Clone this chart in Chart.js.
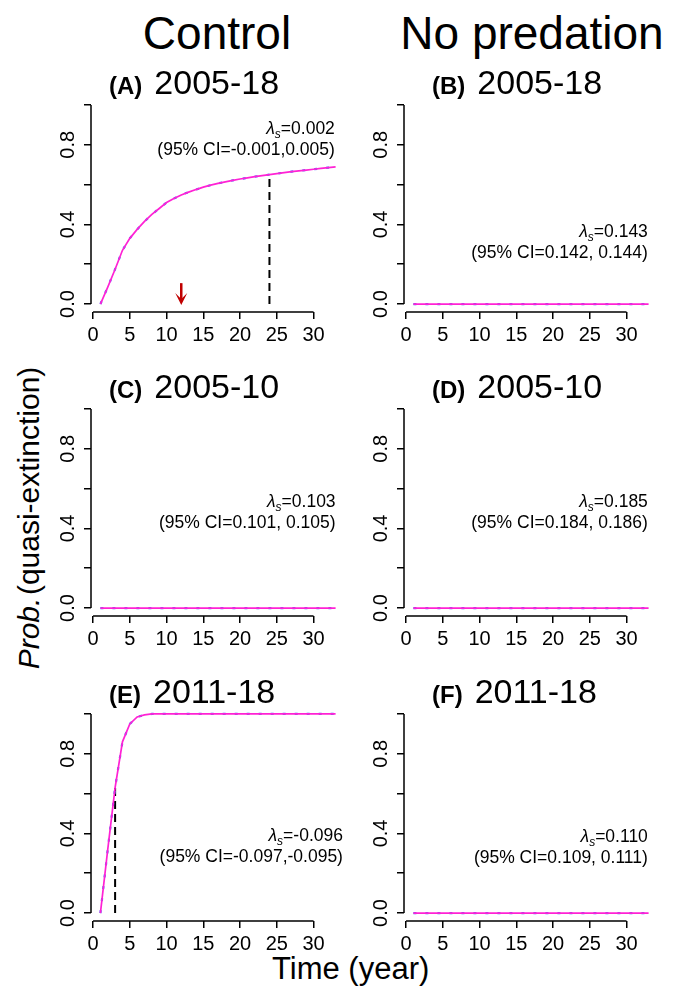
<!DOCTYPE html>
<html>
<head>
<meta charset="utf-8">
<script src="https://cdn.jsdelivr.net/npm/chart.js@4.4.1/dist/chart.umd.min.js"></script>
<style>
  body { margin: 0; background: #fff; }
  #fig { position: relative; width: 675px; height: 990px; overflow: hidden; font-family: "Liberation Sans", Arial, sans-serif; color: #000; }
  canvas { position: absolute; }
  .hdr { position: absolute; font-size: 46px; white-space: nowrap; transform: translateX(-50%); line-height: 1; }
  #ytitle { position: absolute; font-size: 30px; white-space: nowrap; line-height: 1; transform-origin: center; }
  #xtitle { position: absolute; font-size: 31px; white-space: nowrap; line-height: 1; }
</style>
</head>
<body>
<div id="fig">
  <div class="hdr" style="left:217px; top:10px;">Control</div>
  <div class="hdr" style="left:532px; top:10px;">No predation</div>
  <div id="ytitle"><i>Prob.</i>&#8202;(quasi-extinction)</div>
  <div id="xtitle" style="left:272px; top:953px;">Time (year)</div>
</div>
<script>
// years on the x axis
const years = [1, 2, 3, 4, 5, 6, 7, 8, 9, 10, 11, 12, 13, 14, 15, 16, 17,
  18, 19, 20, 21, 22, 23, 24, 25, 26, 27, 28, 29, 30, 31, 32, 33];

// probability of quasi-extinction
const probA = [0, 0.085, 0.175, 0.27, 0.33, 0.375, 0.415, 0.45, 0.48, 0.51, 0.53,
  0.548, 0.562, 0.575, 0.587, 0.597, 0.606, 0.614, 0.621, 0.628, 0.634, 0.64,
  0.645, 0.65, 0.655, 0.66, 0.665, 0.669, 0.673, 0.677, 0.681, 0.685, 0.689];
const probB = [0, 0, 0, 0, 0, 0, 0, 0, 0, 0, 0, 0, 0, 0, 0, 0, 0,
  0, 0, 0, 0, 0, 0, 0, 0, 0, 0, 0, 0, 0, 0, 0, 0];
const probC = [0, 0, 0, 0, 0, 0, 0, 0, 0, 0, 0, 0, 0, 0, 0, 0, 0,
  0, 0, 0, 0, 0, 0, 0, 0, 0, 0, 0, 0, 0, 0, 0, 0];
const probD = [0, 0, 0, 0, 0, 0, 0, 0, 0, 0, 0, 0, 0, 0, 0, 0, 0,
  0, 0, 0, 0, 0, 0, 0, 0, 0, 0, 0, 0, 0, 0, 0, 0];
const probE = [0, 0.32, 0.63, 0.86, 0.95, 0.985, 0.995, 1, 1, 1, 1, 1, 1, 1, 1, 1, 1,
  1, 1, 1, 1, 1, 1, 1, 1, 1, 1, 1, 1, 1, 1, 1, 1];
const probF = [0, 0, 0, 0, 0, 0, 0, 0, 0, 0, 0, 0, 0, 0, 0, 0, 0,
  0, 0, 0, 0, 0, 0, 0, 0, 0, 0, 0, 0, 0, 0, 0, 0];

// tick values and labels
const xTicks = [0, 5, 10, 15, 20, 25, 30];
const yTicks = [0, 0.2, 0.4, 0.6, 0.8, 1.0];
const yTickLabels = ['0.0', '', '0.4', '', '0.8', ''];

// panel texts
const panelLetters = ['(A)', '(B)', '(C)', '(D)', '(E)', '(F)'];
const panelPeriods = ['2005-18', '2005-18', '2005-10', '2005-10', '2011-18', '2011-18'];
const lambdaValues = ['0.002', '0.143', '0.103', '0.185', '-0.096', '0.110'];
const ciTexts = ['(95% CI=-0.001,0.005)', '(95% CI=0.142, 0.144)', '(95% CI=0.101, 0.105)',
  '(95% CI=0.184, 0.186)', '(95% CI=-0.097,-0.095)', '(95% CI=0.109, 0.111)'];

// dashed line where the probability reaches its threshold, and the red arrow
const thresholdA = { year: 24, prob: 0.65 };
const thresholdE = { year: 3, prob: 0.63 };
const arrowA = { year: 12, from: 0.105, to: -0.005 };

const series = [probA, probB, probC, probD, probE, probF];
const thresholds = [thresholdA, null, null, null, thresholdE, null];
const arrows = [arrowA, null, null, null, null, null];
// where the lambda text sits (data units: right edge, baseline of 2nd line)
const notePos = [[32.9, 0.75], [32.9, 0.23], [33.0, 0.40], [32.9, 0.40], [34.0, 0.255], [32.9, 0.25]];

const FONT = '"Liberation Sans", Arial, sans-serif';
Chart.defaults.font.family = FONT;
Chart.defaults.color = '#000';

const chartLefts = [91, 404];
const titleOffsets = [18, 28];
const chartW = 254, chartH = 215;
const padTop = 50, padRight = 16, yAxisW = 60, xAxisH = 45;

const rDecor = {
  id: 'rDecor',
  afterDraw(chart, args, opts) {
    const ctx = chart.ctx;
    const xs = chart.scales.x, ys = chart.scales.y;
    const area = chart.chartArea;
    ctx.save();
    // axis lines from first to last tick, like R
    ctx.strokeStyle = '#000';
    ctx.lineWidth = 1.5;
    ctx.beginPath();
    ctx.moveTo(xs.getPixelForValue(xTicks[0]), area.bottom);
    ctx.lineTo(xs.getPixelForValue(xTicks[xTicks.length - 1]), area.bottom);
    ctx.moveTo(area.left, ys.getPixelForValue(yTicks[0]));
    ctx.lineTo(area.left, ys.getPixelForValue(yTicks[yTicks.length - 1]));
    ctx.stroke();

    // panel title
    ctx.fillStyle = '#000';
    ctx.textBaseline = 'alphabetic';
    ctx.textAlign = 'left';
    let tx = area.left + opts.titleOffset;
    const ty = area.top - 3;
    ctx.font = 'bold 24px ' + FONT;
    ctx.fillText(opts.letter, tx, ty);
    tx += ctx.measureText(opts.letter).width + 12;
    ctx.font = '34px ' + FONT;
    ctx.fillText(opts.period, tx, ty);

    // lambda note, right aligned
    const nx = xs.getPixelForValue(opts.note[0]);
    const ny = ys.getPixelForValue(opts.note[1]);
    ctx.textAlign = 'right';
    ctx.font = '17.5px ' + FONT;
    ctx.fillText(opts.ci, nx, ny);
    const rest = '=' + opts.lambda;
    const wRest = ctx.measureText(rest).width;
    ctx.fillText(rest, nx, ny - 21);
    ctx.font = 'italic 12px ' + FONT;
    const wSub = ctx.measureText('s').width;
    ctx.fillText('s', nx - wRest, ny - 17);
    ctx.font = 'italic 17.5px ' + FONT;
    ctx.fillText('\u03bb', nx - wRest - wSub, ny - 21);

    // red arrow
    if (opts.arrow) {
      const ax = xs.getPixelForValue(opts.arrow.year);
      const a0 = ys.getPixelForValue(opts.arrow.from);
      const a1 = ys.getPixelForValue(opts.arrow.to);
      ctx.strokeStyle = '#c00000';
      ctx.fillStyle = '#c00000';
      ctx.lineWidth = 2.5;
      ctx.beginPath();
      ctx.moveTo(ax, a0);
      ctx.lineTo(ax, a1 - 4);
      ctx.stroke();
      ctx.beginPath();
      ctx.moveTo(ax - 6, a1 - 12);
      ctx.lineTo(ax, a1);
      ctx.lineTo(ax + 6, a1 - 12);
      ctx.lineTo(ax, a1 - 6);
      ctx.closePath();
      ctx.fill();
    }
    ctx.restore();
  }
};

const fig = document.getElementById('fig');

series.forEach((probs, i) => {
  const col = i % 2, row = Math.floor(i / 2);
  const left = chartLefts[col] - yAxisW;
  const top = Math.round(97 + row * 304.3) - padTop;
  const canvas = document.createElement('canvas');
  canvas.width = yAxisW + chartW + padRight;
  canvas.height = padTop + chartH + xAxisH;
  canvas.style.left = left + 'px';
  canvas.style.top = top + 'px';
  fig.appendChild(canvas);

  const points = years.map((yr, k) => ({ x: yr, y: probs[k] }));
  const datasets = [
    { data: points, borderColor: '#ff22d4', borderWidth: 1.7 },
    { data: points, borderColor: '#4a6cff', borderWidth: 2.2, borderDash: [3, 9] }
  ];
  const th = thresholds[i];
  if (th) {
    datasets.push({
      data: [{ x: th.year, y: 0 }, { x: th.year, y: th.prob }],
      borderColor: '#000', borderWidth: 2, borderDash: [8, 5]
    });
  }

  new Chart(canvas, {
    type: 'line',
    data: { datasets: datasets },
    options: {
      responsive: false,
      animation: false,
      devicePixelRatio: 1,
      layout: { padding: { top: padTop, right: padRight, left: 0, bottom: 0 } },
      elements: { point: { radius: 0 }, line: { tension: 0 } },
      plugins: {
        legend: { display: false },
        tooltip: { enabled: false },
        rDecor: {
          letter: panelLetters[i], period: panelPeriods[i],
          lambda: lambdaValues[i], ci: ciTexts[i], note: notePos[i],
          arrow: arrows[i], titleOffset: titleOffsets[col]
        }
      },
      scales: {
        x: {
          type: 'linear', min: -0.28, max: 34.28,
          afterBuildTicks: s => { s.ticks = xTicks.map(v => ({ value: v })); },
          afterFit: s => { s.height = xAxisH; },
          grid: { drawOnChartArea: false, drawTicks: true, tickLength: 7, color: '#000', lineWidth: 1.5 },
          border: { display: false },
          ticks: { autoSkip: false, maxRotation: 0, font: { size: 20 }, padding: 4, color: '#000' }
        },
        y: {
          type: 'linear', min: -0.04, max: 1.04,
          afterBuildTicks: s => { s.ticks = yTicks.map(v => ({ value: v })); },
          afterFit: s => { s.width = yAxisW; },
          grid: { drawOnChartArea: false, drawTicks: true, tickLength: 7, color: '#000', lineWidth: 1.5 },
          border: { display: false },
          ticks: {
            autoSkip: false, minRotation: 90, maxRotation: 90, crossAlign: 'center',
            font: { size: 20 }, padding: 2, color: '#000',
            callback: (v, idx) => yTickLabels[idx]
          }
        }
      }
    },
    plugins: [rDecor]
  });
});

// rotated y axis title centred on the plot rows
const yt = document.getElementById('ytitle');
const w = yt.offsetWidth, h = yt.offsetHeight;
yt.style.left = (29 - w / 2) + 'px';
yt.style.top = (518 - h / 2) + 'px';
yt.style.transform = 'rotate(-90deg)';
</script>
</body>
</html>
